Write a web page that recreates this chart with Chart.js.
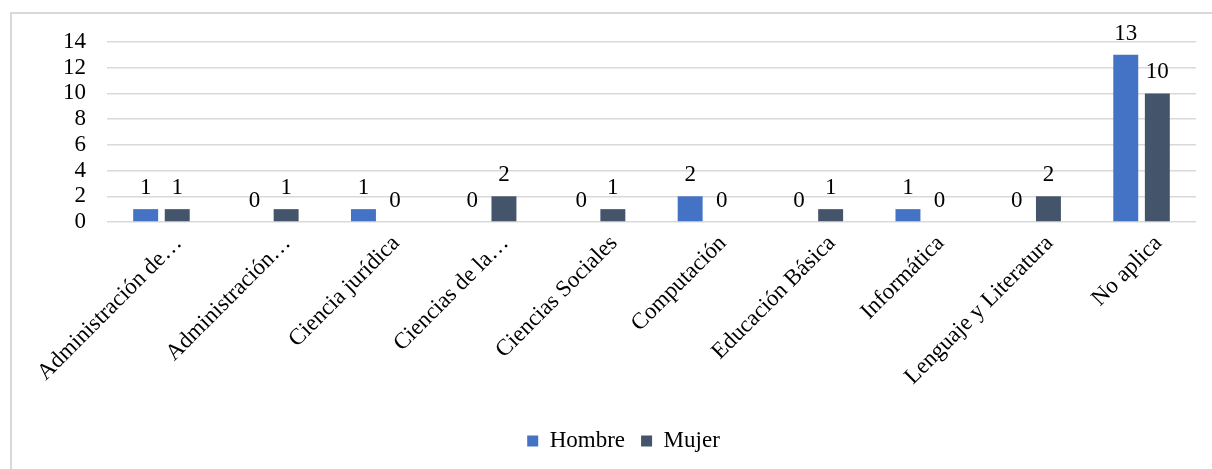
<!DOCTYPE html>
<html>
<head>
<meta charset="utf-8">
<script src="https://cdn.jsdelivr.net/npm/chart.js@4/dist/chart.umd.min.js"></script>
<style>
  html, body { margin: 0; padding: 0; background: #fff; overflow: hidden; }
  #wrap { position: relative; width: 1212px; height: 469px; }
  #frame {
    position: absolute; left: 10px; top: 12px; width: 1300px; height: 500px;
    border-left: 2px solid #d9d9d9; border-top: 2px solid #d9d9d9;
    pointer-events: none;
  }
  canvas { position: absolute; left: 0; top: 0; }
</style>
</head>
<body>
<div id="wrap">
  <div id="frame"></div>
  <canvas id="chart" width="1212" height="469"></canvas>
</div>
<script>
const categories = [
  "Administración de…",
  "Administración…",
  "Ciencia jurídica",
  "Ciencias de la…",
  "Ciencias Sociales",
  "Computación",
  "Educación Básica",
  "Informática",
  "Lenguaje y Literatura",
  "No aplica"
];
const hombre = [1, 0, 1, 0, 0, 2, 0, 1, 0, 13];
const mujer  = [1, 1, 0, 2, 1, 0, 1, 0, 2, 10];
const yTicks = [0, 2, 4, 6, 8, 10, 12, 14];

const FONT = '"Liberation Serif", "Times New Roman", serif';
const FONT_SIZE = 23;

// Writes each bar's value just above its top end
const valueLabels = {
  id: 'valueLabels',
  afterDatasetsDraw(chart) {
    const ctx = chart.ctx;
    ctx.save();
    ctx.font = FONT_SIZE + 'px ' + FONT;
    ctx.fillStyle = '#000';
    ctx.textAlign = 'center';
    ctx.textBaseline = 'alphabetic';
    chart.data.datasets.forEach((ds, i) => {
      const meta = chart.getDatasetMeta(i);
      meta.data.forEach((bar, j) => {
        ctx.fillText(String(ds.data[j]), bar.x, bar.y - 15);
      });
    });
    ctx.restore();
  }
};

new Chart(document.getElementById('chart'), {
  type: 'bar',
  data: {
    labels: categories,
    datasets: [
      { label: 'Hombre', data: hombre, backgroundColor: '#4472C4',
        categoryPercentage: 0.58, barPercentage: 0.79 },
      { label: 'Mujer', data: mujer, backgroundColor: '#44546A',
        categoryPercentage: 0.58, barPercentage: 0.79 }
    ]
  },
  options: {
    responsive: false,
    animation: false,
    layout: { padding: { left: 51, right: 16, top: 42, bottom: 6.5 } },
    plugins: {
      legend: {
        position: 'bottom',
        labels: {
          font: { family: FONT, size: FONT_SIZE },
          color: '#000',
          boxWidth: 11,
          boxHeight: 11,
          padding: 16
        }
      },
      tooltip: { enabled: false }
    },
    scales: {
      x: {
        grid: { display: false },
        border: { display: false },
        ticks: {
          autoSkip: false,
          maxRotation: 45,
          minRotation: 45,
          padding: 0,
          labelOffset: 17,
          color: '#000',
          font: { family: FONT, size: FONT_SIZE }
        },
        afterFit(scale) { scale.height = 191.5; }
      },
      y: {
        min: 0,
        max: 14,
        afterBuildTicks(scale) { scale.ticks = yTicks.map(v => ({ value: v })); },
        grid: { color: '#d9d9d9', lineWidth: 1.5, drawTicks: false },
        border: { display: false },
        ticks: {
          autoSkip: false,
          padding: 21,
          color: '#000',
          font: { family: FONT, size: FONT_SIZE }
        },
        afterFit(scale) { scale.width = 56; }
      }
    }
  },
  plugins: [valueLabels]
});
</script>
</body>
</html>
